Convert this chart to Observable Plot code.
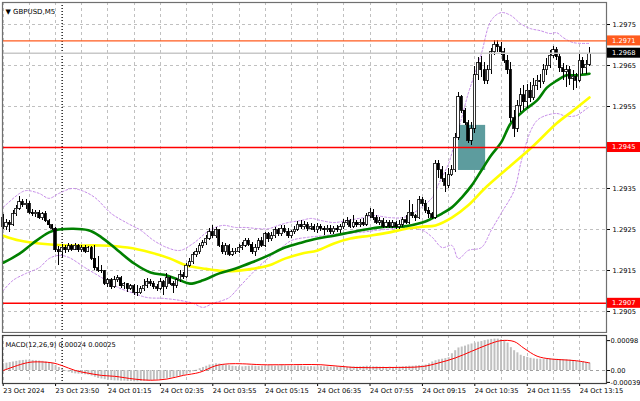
<!DOCTYPE html>
<html><head><meta charset="utf-8">
<script src="https://cdn.jsdelivr.net/npm/d3@7"></script>
<script src="https://cdn.jsdelivr.net/npm/@observablehq/plot@0.6"></script>
<style>
html,body{margin:0;padding:0;background:#fff;}
#wrap{position:relative;width:640px;height:401px;overflow:hidden;background:#fff;}
#main{position:absolute;left:0;top:0;}
#macd{position:absolute;left:0;top:333px;}
svg{overflow:visible;}
</style></head><body>
<div id="wrap"><div id="main"></div><div id="macd"></div></div>
<script>
// ---- data (GBPUSD M5) ----
const open=[1.29279,1.29255,1.29267,1.29262,1.29287,1.29301,1.29316,1.29309,1.29313,1.29291,
1.29287,1.29291,1.29277,1.29287,1.29270,1.29260,1.29252,1.29199,1.29194,1.29206,
1.29199,1.29209,1.29201,1.29211,1.29199,1.29206,1.29196,1.29204,1.29179,1.29155,
1.29150,1.29148,1.29118,1.29126,1.29109,1.29126,1.29131,1.29111,1.29116,1.29106,
1.29111,1.29096,1.29094,1.29104,1.29113,1.29121,1.29118,1.29109,1.29106,1.29121,
1.29109,1.29131,1.29118,1.29113,1.29126,1.29138,1.29133,1.29162,1.29170,1.29187,
1.29194,1.29209,1.29216,1.29228,1.29243,1.29233,1.29248,1.29211,1.29194,1.29209,
1.29189,1.29194,1.29196,1.29206,1.29211,1.29223,1.29213,1.29194,1.29206,1.29221,
1.29211,1.29238,1.29226,1.29233,1.29248,1.29238,1.29252,1.29245,1.29233,1.29243,
1.29250,1.29262,1.29255,1.29260,1.29252,1.29257,1.29248,1.29257,1.29252,1.29248,
1.29252,1.29243,1.29252,1.29248,1.29255,1.29265,1.29270,1.29257,1.29267,1.29260,
1.29267,1.29262,1.29282,1.29291,1.29277,1.29267,1.29270,1.29257,1.29267,1.29257,
1.29265,1.29255,1.29262,1.29272,1.29267,1.29291,1.29282,1.29277,1.29321,1.29313,
1.29296,1.29287,1.29279,1.29411,1.29394,1.29374,1.29357,1.29382,1.29394,1.29474,
1.29572,1.29540,1.29509,1.29467,1.29496,1.29626,1.29655,1.29638,1.29613,1.29638,
1.29682,1.29701,1.29694,1.29682,1.29662,1.29638,1.29521,1.29496,1.29552,1.29577,
1.29560,1.29589,1.29570,1.29601,1.29613,1.29609,1.29638,1.29650,1.29674,1.29687,
1.29670,1.29643,1.29633,1.29638,1.29618,1.29623,1.29613,1.29662,1.29643,1.29652];
const high=[1.29287,1.29274,1.29272,1.29296,1.29309,1.29330,1.29323,1.29323,1.29318,1.29299,
1.29296,1.29296,1.29291,1.29294,1.29274,1.29262,1.29255,1.29209,1.29213,1.29211,
1.29216,1.29213,1.29216,1.29213,1.29211,1.29211,1.29209,1.29209,1.29211,1.29184,
1.29162,1.29150,1.29131,1.29131,1.29135,1.29138,1.29135,1.29121,1.29118,1.29116,
1.29116,1.29113,1.29111,1.29128,1.29131,1.29128,1.29123,1.29116,1.29131,1.29126,
1.29143,1.29135,1.29123,1.29131,1.29150,1.29145,1.29167,1.29179,1.29194,1.29204,
1.29216,1.29223,1.29235,1.29252,1.29260,1.29255,1.29250,1.29218,1.29216,1.29213,
1.29204,1.29204,1.29213,1.29218,1.29228,1.29228,1.29218,1.29213,1.29228,1.29231,
1.29243,1.29243,1.29243,1.29255,1.29252,1.29260,1.29260,1.29252,1.29248,1.29257,
1.29270,1.29272,1.29270,1.29267,1.29265,1.29262,1.29265,1.29262,1.29257,1.29260,
1.29260,1.29257,1.29260,1.29262,1.29274,1.29279,1.29274,1.29284,1.29272,1.29274,
1.29277,1.29289,1.29301,1.29299,1.29284,1.29279,1.29277,1.29272,1.29272,1.29272,
1.29270,1.29272,1.29279,1.29284,1.29321,1.29311,1.29287,1.29330,1.29328,1.29321,
1.29304,1.29291,1.29418,1.29418,1.29404,1.29389,1.29399,1.29406,1.29484,1.29584,
1.29577,1.29545,1.29516,1.29511,1.29648,1.29670,1.29672,1.29657,1.29650,1.29691,
1.29711,1.29711,1.29706,1.29691,1.29674,1.29657,1.29540,1.29565,1.29594,1.29601,
1.29604,1.29609,1.29618,1.29626,1.29628,1.29652,1.29667,1.29687,1.29696,1.29694,
1.29677,1.29655,1.29650,1.29648,1.29638,1.29631,1.29679,1.29670,1.29662,1.29694];
const low=[1.29250,1.29248,1.29243,1.29257,1.29282,1.29296,1.29304,1.29299,1.29287,1.29282,
1.29279,1.29274,1.29272,1.29267,1.29252,1.29248,1.29194,1.29162,1.29179,1.29191,
1.29194,1.29196,1.29199,1.29194,1.29194,1.29191,1.29194,1.29174,1.29150,1.29145,
1.29143,1.29113,1.29109,1.29104,1.29106,1.29121,1.29106,1.29104,1.29096,1.29101,
1.29089,1.29087,1.29091,1.29099,1.29106,1.29111,1.29104,1.29099,1.29101,1.29089,
1.29104,1.29113,1.29094,1.29106,1.29121,1.29128,1.29131,1.29157,1.29165,1.29182,
1.29189,1.29204,1.29211,1.29223,1.29228,1.29228,1.29206,1.29189,1.29187,1.29184,
1.29184,1.29189,1.29191,1.29199,1.29206,1.29209,1.29189,1.29184,1.29199,1.29206,
1.29206,1.29218,1.29221,1.29228,1.29233,1.29233,1.29240,1.29228,1.29228,1.29238,
1.29245,1.29250,1.29250,1.29245,1.29248,1.29243,1.29240,1.29245,1.29235,1.29243,
1.29238,1.29238,1.29243,1.29240,1.29250,1.29260,1.29252,1.29252,1.29255,1.29255,
1.29257,1.29257,1.29277,1.29272,1.29262,1.29260,1.29252,1.29252,1.29252,1.29252,
1.29250,1.29250,1.29255,1.29262,1.29262,1.29277,1.29270,1.29274,1.29306,1.29289,
1.29277,1.29274,1.29274,1.29374,1.29365,1.29340,1.29350,1.29379,1.29389,1.29467,
1.29533,1.29504,1.29460,1.29455,1.29484,1.29613,1.29621,1.29604,1.29604,1.29628,
1.29674,1.29682,1.29674,1.29655,1.29628,1.29511,1.29474,1.29487,1.29535,1.29540,
1.29545,1.29560,1.29565,1.29589,1.29594,1.29604,1.29626,1.29643,1.29667,1.29662,
1.29633,1.29613,1.29596,1.29601,1.29589,1.29594,1.29609,1.29628,1.29629,1.29648];
const close=[1.29255,1.29267,1.29262,1.29287,1.29301,1.29316,1.29309,1.29313,1.29291,1.29287,
1.29291,1.29277,1.29287,1.29270,1.29260,1.29252,1.29199,1.29194,1.29206,1.29199,
1.29209,1.29201,1.29211,1.29199,1.29206,1.29196,1.29204,1.29179,1.29155,1.29150,
1.29148,1.29118,1.29126,1.29109,1.29126,1.29131,1.29111,1.29116,1.29106,1.29111,
1.29096,1.29094,1.29104,1.29113,1.29121,1.29118,1.29109,1.29106,1.29121,1.29109,
1.29131,1.29118,1.29113,1.29126,1.29138,1.29133,1.29162,1.29170,1.29187,1.29194,
1.29209,1.29216,1.29228,1.29243,1.29233,1.29248,1.29211,1.29194,1.29209,1.29189,
1.29194,1.29196,1.29206,1.29211,1.29223,1.29213,1.29194,1.29206,1.29221,1.29211,
1.29238,1.29226,1.29233,1.29248,1.29238,1.29252,1.29245,1.29233,1.29243,1.29250,
1.29262,1.29255,1.29260,1.29252,1.29257,1.29248,1.29257,1.29252,1.29248,1.29252,
1.29243,1.29252,1.29248,1.29255,1.29265,1.29270,1.29257,1.29267,1.29260,1.29267,
1.29262,1.29282,1.29291,1.29277,1.29267,1.29270,1.29257,1.29267,1.29257,1.29265,
1.29255,1.29262,1.29272,1.29267,1.29291,1.29282,1.29277,1.29321,1.29313,1.29296,
1.29287,1.29279,1.29411,1.29394,1.29374,1.29357,1.29382,1.29394,1.29474,1.29572,
1.29540,1.29509,1.29467,1.29496,1.29626,1.29655,1.29638,1.29613,1.29638,1.29682,
1.29701,1.29694,1.29682,1.29662,1.29638,1.29521,1.29496,1.29552,1.29577,1.29560,
1.29589,1.29570,1.29601,1.29613,1.29609,1.29638,1.29650,1.29674,1.29687,1.29670,
1.29643,1.29633,1.29638,1.29618,1.29623,1.29613,1.29662,1.29643,1.29652,1.29679];

// moving averages (bar index, price)
const greenIdx=[0,5,9,14,17,26,30,35,40,45,50,54,57,61,66,71,76,81,86,91,96,101,106,112,117,122,128,131,134,137,140,143,146,149,152,155,159,163,166,169,172,175,179];
const greenVal=[1.29169,1.29191,1.29216,1.29243,1.29250,1.29248,1.29231,1.29199,1.29167,1.29145,1.29138,1.29126,1.29118,1.29126,1.29143,1.29155,1.29170,1.29187,1.29206,1.29218,1.29228,1.29235,1.29243,1.29252,1.29257,1.29257,1.29267,1.29277,1.29289,1.29304,1.29328,1.29357,1.29394,1.29431,1.29462,1.29509,1.29540,1.29565,1.29596,1.29613,1.29626,1.29626,1.29630];
const yellowIdx=[0,5,11,20,30,38,45,51,56,62,67,71,76,81,86,91,96,101,106,112,118,123,128,132,137,142,147,155,162,169,174,179];
const yellowVal=[1.29235,1.29223,1.29216,1.29211,1.29211,1.29206,1.29194,1.29179,1.29162,1.29154,1.29149,1.29149,1.29154,1.29162,1.29179,1.29191,1.29199,1.29216,1.29228,1.29235,1.29243,1.29252,1.29257,1.29260,1.29279,1.29309,1.29350,1.29406,1.29455,1.29509,1.29540,1.29572];
// bollinger bands
const bbUpIdx=[0,5,7,11,14,17,21,24,28,33,38,42,46,50,54,58,63,67,71,74,78,81,84,87,91,94,97,101,105,110,113,118,122,125,128,131,133,136,138,140,142,144,146,149,152,155,158,161,164,167,169,171,174,179];
const bbUpVal=[1.29304,1.29338,1.29345,1.29338,1.29326,1.29338,1.29350,1.29345,1.29328,1.29289,1.29265,1.29248,1.29223,1.29206,1.29199,1.29216,1.29248,1.29260,1.29255,1.29255,1.29252,1.29252,1.29260,1.29267,1.29272,1.29277,1.29272,1.29267,1.29272,1.29279,1.29284,1.29279,1.29279,1.29289,1.29306,1.29328,1.29362,1.29411,1.29467,1.29523,1.29582,1.29630,1.29679,1.29760,1.29779,1.29772,1.29752,1.29740,1.29735,1.29728,1.29730,1.29718,1.29706,1.29704];
const bbLoIdx=[0,3,7,11,14,17,20,25,30,35,40,44,49,54,58,61,64,67,69,72,76,80,84,88,93,98,103,109,114,119,123,128,131,134,137,139,142,146,149,152,156,158,159,161,163,165,169,172,175,177,179];
const bbLoVal=[1.29101,1.29126,1.29143,1.29157,1.29179,1.29187,1.29182,1.29157,1.29133,1.29109,1.29094,1.29084,1.29082,1.29077,1.29070,1.29060,1.29070,1.29077,1.29084,1.29109,1.29143,1.29174,1.29199,1.29223,1.29231,1.29235,1.29240,1.29243,1.29248,1.29252,1.29255,1.29248,1.29231,1.29206,1.29211,1.29179,1.29199,1.29206,1.29248,1.29289,1.29345,1.29411,1.29441,1.29490,1.29516,1.29526,1.29533,1.29526,1.29528,1.29538,1.29550];

// MACD histogram (per bar) and signal line
const macdHist=[0.00022,0.00024,0.00026,0.00028,0.00030,0.00032,
0.00033,0.00034,0.00034,0.00033,0.00032,0.00031,0.00030,0.00028,0.00026,0.00024,
0.00016,0.00010,0.00004,-0.00002,-0.00006,
-0.00009,-0.00011,-0.00012,-0.00013,-0.00014,-0.00015,-0.00018,-0.00022,-0.00026,-0.00028,
-0.00030,-0.00032,-0.00033,-0.00034,-0.00034,-0.00035,-0.00035,-0.00036,-0.00036,-0.00037,-0.00037,-0.00036,-0.00035,-0.00034,-0.00033,
-0.00032,-0.00031,-0.00030,-0.00028,-0.00027,-0.00025,-0.00023,-0.00021,-0.00019,-0.00016,
-0.00012,-0.00008,-0.00004,0.00001,0.00006,0.00010,0.00014,
0.00018,0.00020,0.00022,0.00021,0.00019,0.00017,0.00016,0.00014,
0.00013,0.00012,0.00012,0.00013,0.00014,0.00015,0.00014,0.00013,0.00014,0.00015,0.00016,0.00015,0.00014,0.00015,0.00016,0.00015,0.00014,0.00013,0.00014,0.00015,0.00014,0.00013,0.00012,0.00013,0.00012,0.00012,0.00013,0.00012,
0.00012,0.00011,0.00011,0.00012,0.00011,0.00011,0.00010,0.00011,0.00012,0.00011,0.00012,0.00013,0.00014,0.00013,0.00012,0.00012,0.00011,0.00011,0.00010,0.00011,0.00010,0.00010,0.00011,0.00012,0.00013,0.00014,0.00014,
0.00015,0.00016,0.00017,0.00018,0.00022,
0.00028,0.00032,0.00035,0.00037,0.00039,0.00042,0.00055,0.00065,0.00074,0.00077,
0.00080,0.00084,0.00087,0.00090,0.00093,0.00095,0.00098,0.00100,0.00102,0.00103,
0.00103,0.00101,0.00098,0.00090,0.00075,0.00065,0.00058,0.00050,0.00046,0.00043,
0.00040,0.00038,0.00037,0.00037,0.00037,0.00038,0.00038,0.00037,0.00037,0.00036,
0.00036,0.00035,0.00034,0.00032,0.00030,0.00029,0.00028,0.00026,0.00024];
const sigIdx=[0,6,9,15,18,22,26,30,34,40,45,50,55,60,65,69,73,79,86,97,107,118,128,133,138,143,148,152,156,159,163,167,171,175,179];
const sigVal=[0,0.00022,0.00028,0.00025,0.00016,0,-0.00009,-0.00016,-0.00019,-0.00028,-0.00032,-0.00028,-0.00016,-0.00006,0.00016,0.00022,0.00022,0.00019,0.00019,0.00019,0.00010,0.00010,0.00013,0.00025,0.00041,0.00063,0.00085,0.00098,0.00095,0.00073,0.00047,0.00038,0.00035,0.00032,0.00025];

// axes / annotations
const priceGrid=[1.2905,1.2915,1.2925,1.2935,1.2945,1.2955,1.2965,1.2975];
const priceLabels=[1.2905,1.2915,1.2925,1.2935,1.2955,1.2965,1.2975];
const macdTicks=[0.00098,0,-0.00039];
const timeTicks=[0,16,32,48,64,80,96,112,128,144,160,176];
const timeLabels=["23 Oct 2024","23 Oct 23:50","24 Oct 01:15","24 Oct 02:35","24 Oct 03:55","24 Oct 05:15","24 Oct 06:35","24 Oct 07:55","24 Oct 09:15","24 Oct 10:35","24 Oct 11:55","24 Oct 13:15"];
const gridIdx=[0,8,16,24,32,40,48,56,64,72,80,88,96,104,112,120,128,136,144,152,160,168,176];
const daySeparator=[18];
const levels=[{price:1.2971,color:"#ff5b1e",w:1.3},{price:1.2945,color:"#ff0000",w:1.6},{price:1.2907,color:"#ff0000",w:1.6}];
const bidPrice=1.2968;
const zone=[{i1:139.0,i2:147.3,lo:1.29394,hi:1.29504}];
const title="\u25BC GBPUSD,M5";
const macdTitle="MACD(12,26,9) 0.00024 0.00025";

// ---- build ----
const candles=close.map((c,i)=>({i,open:open[i],high:high[i],low:low[i],close:c}));
const pts=(idx,val)=>idx.map((x,k)=>({i:x,v:val[k]}));
const FONT="DejaVu Sans";
const xDomain=[-0.21,184.2];
const fmt4=d3.format(".4f");

const main=Plot.plot({
  width:640,height:335,marginLeft:2,marginRight:34,marginTop:2,marginBottom:3,
  x:{domain:xDomain,axis:null,label:null},
  y:{domain:[1.289988,1.298037],axis:null,label:null},
  style:{fontFamily:FONT,fontSize:"6.7px",background:"white",color:"black"},
  marks:[
    Plot.ruleX(gridIdx,{stroke:"#c0c0c0",strokeDasharray:"3,3",strokeWidth:1,shapeRendering:"crispEdges"}),
    Plot.ruleY(priceGrid,{stroke:"#c0c0c0",strokeDasharray:"3,3",strokeWidth:1,shapeRendering:"crispEdges"}),
    Plot.rect(zone,{x1:"i1",x2:"i2",y1:"lo",y2:"hi",fill:"#5d9c9e"}),
    Plot.ruleX(daySeparator,{stroke:"#000",strokeDasharray:"1,2",strokeWidth:1.3}),
    Plot.line(pts(bbUpIdx,bbUpVal),{x:"i",y:"v",stroke:"#c58be8",strokeWidth:1,strokeDasharray:"2,2",curve:"catmull-rom"}),
    Plot.line(pts(bbLoIdx,bbLoVal),{x:"i",y:"v",stroke:"#c58be8",strokeWidth:1,strokeDasharray:"2,2",curve:"catmull-rom"}),
    Plot.line(pts(yellowIdx,yellowVal),{x:"i",y:"v",stroke:"#ffff00",strokeWidth:2.6,curve:"catmull-rom"}),
    Plot.line(pts(greenIdx,greenVal),{x:"i",y:"v",stroke:"#008000",strokeWidth:2.6,curve:"catmull-rom"}),
    Plot.ruleX(candles,{x:"i",y1:"low",y2:"high",stroke:"#000",strokeWidth:1,shapeRendering:"crispEdges"}),
    Plot.rect(candles,{x1:d=>d.i-0.34,x2:d=>d.i+0.34,y1:"open",y2:"close",
      fill:d=>d.close>=d.open?"#fff":"#000",stroke:"#000",strokeWidth:0.8,shapeRendering:"crispEdges"}),
    Plot.ruleY([bidPrice],{stroke:"#c8c8c8",strokeWidth:1.4}),
    Plot.ruleY(levels,{y:"price",stroke:"color",strokeWidth:"w"}),
    Plot.axisY(priceLabels,{anchor:"right",label:null,tickSize:3,tickPadding:3,tickFormat:fmt4,fontSize:6.7}),
    Plot.frame({stroke:"#707070",strokeWidth:1.2}),
    Plot.text([title],{frameAnchor:"top-left",dx:3,dy:7,textAnchor:"start",fontSize:7,fill:"#000"})
  ]
});
document.getElementById("main").appendChild(main);

// price boxes on the right axis, positioned with the plot's own y scale
(function(){
  const s=main.scale("y");
  const f=s.apply?((v)=>s.apply(v)):d3.scaleLinear(s.domain,s.range);
  const svg=d3.select(main);
  const g=svg.append("g").attr("font-family",FONT).attr("font-size","6.7px").attr("text-anchor","start");
  const boxes=[{price:levels[0].price,color:levels[0].color},{price:bidPrice,color:"#000"},{price:levels[1].price,color:levels[1].color},{price:levels[2].price,color:levels[2].color}];
  const x0=640-34+1;
  for(const b of boxes){
    const y=f(b.price);
    g.append("rect").attr("x",x0).attr("y",y-5).attr("width",34).attr("height",10).attr("fill",b.color);
    g.append("text").attr("x",x0+5).attr("y",y).attr("dy","0.35em").attr("text-anchor","start").attr("fill","#fff").text(fmt4(b.price));
  }
})();

const macd=Plot.plot({
  width:640,height:68,marginLeft:2,marginRight:34,marginTop:2,marginBottom:18,
  x:{domain:xDomain,axis:null,label:null},
  y:{domain:[-0.000426,0.001148],axis:null,label:null},
  style:{fontFamily:FONT,fontSize:"6.7px",background:"white",color:"black"},
  marks:[
    Plot.ruleX(gridIdx,{stroke:"#c0c0c0",strokeDasharray:"3,3",strokeWidth:1,shapeRendering:"crispEdges"}),
    Plot.ruleY([0],{stroke:"#a0a0a0",strokeDasharray:"3,3",strokeWidth:1,shapeRendering:"crispEdges"}),
    Plot.ruleX(daySeparator,{stroke:"#000",strokeDasharray:"1,2",strokeWidth:1.3}),
    Plot.ruleX(macdHist.map((v,i)=>({i,v})),{x:"i",y1:0,y2:"v",stroke:"#c0c0c0",strokeWidth:2}),
    Plot.line(pts(sigIdx,sigVal),{x:"i",y:"v",stroke:"#ff0000",strokeWidth:1,curve:"catmull-rom"}),
    Plot.axisY(macdTicks,{anchor:"right",label:null,tickSize:3,tickPadding:1,fontSize:6.7,tickFormat:d=>d===0?"0.00":d.toFixed(5)}),
    Plot.axisX(timeTicks,{anchor:"bottom",label:null,tickSize:3,tickPadding:2,fontSize:6.7,textAnchor:"start",
      tickFormat:d=>timeLabels[timeTicks.indexOf(d)]}),
    Plot.frame({stroke:"#404040",strokeWidth:1.2}),
    Plot.text([macdTitle],{frameAnchor:"top-left",dx:3,dy:7,textAnchor:"start",fontSize:6.7,fill:"#000"})
  ]
});
document.getElementById("macd").appendChild(macd);
</script>
</body></html>
